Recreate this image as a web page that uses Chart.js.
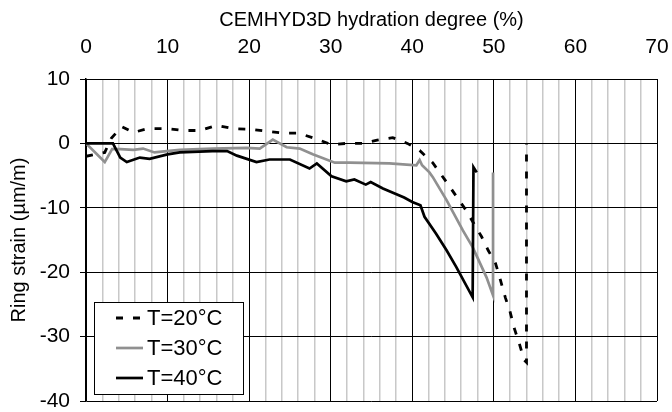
<!DOCTYPE html>
<html>
<head>
<meta charset="utf-8">
<script src="https://cdn.jsdelivr.net/npm/chart.js@4/dist/chart.umd.min.js"></script>
<style>
html,body{margin:0;padding:0;background:#fff;}
#wrap{width:672px;height:412px;}
</style>
</head>
<body>
<div id="wrap"><canvas id="c" width="672" height="412"></canvas></div>
<script>
const seriesLabels = ['T=20°C', 'T=30°C', 'T=40°C'];
const hyd20 = [0, 2.3, 3.1, 4.4, 5.8, 7.6, 9.9, 11.9, 14, 16, 18, 20, 22.1, 24.1, 26, 28, 30.1, 31.9, 33.9, 35.7, 37.6, 39.4, 40.9, 42.5, 44.3, 45.5, 46.6, 48.5, 49.3, 50.2, 50.8, 51.4, 52, 52.5, 53.1, 53.7, 54, 54];
const str20 = [-2, -1.4, 0.8, 2.6, 1.7, 2.3, 2.3, 2.0, 2.0, 2.8, 2.3, 2.2, 1.9, 1.6, 1.6, 0.8, -0.2, 0, 0, 0.5, 0.9, 0, -1.1, -3, -6.2, -8.4, -10.4, -14.5, -16.6, -18.6, -21.2, -23.9, -26.2, -28.7, -31, -33.6, -34, 0];
const hyd30 = [0, 2.3, 3.2, 4.2, 5.8, 7, 8.4, 9.9, 11.5, 15.5, 19.7, 21.3, 22.9, 24.6, 26.2, 27.8, 30.5, 32.3, 37.2, 40.5, 40.9, 41.2, 42.1, 42.5, 44.2, 46.2, 47.4, 49.1, 49.9, 49.9];
const str30 = [0, -2.9, -0.9, -0.9, -1, -0.8, -1.4, -1.2, -1, -0.8, -0.7, -0.8, 0.6, -0.6, -0.8, -1.7, -3, -3, -3.1, -3.4, -2.6, -3.4, -4.5, -5.2, -8.8, -13.5, -16.1, -20.8, -23.6, -4.5];
const hyd40 = [0, 3.3, 4.2, 5, 6.6, 7.8, 10, 11.5, 15.5, 17.3, 18.5, 20.9, 22.5, 25, 27.4, 28.3, 30.1, 31.9, 32.9, 34.3, 34.9, 36.4, 39, 40, 41, 41.5, 42.9, 44.2, 45.4, 47.4, 47.5, 47.9];
const str40 = [0, 0, -2.2, -2.9, -2.2, -2.4, -1.7, -1.4, -1.2, -1.2, -1.9, -2.9, -2.5, -2.5, -3.9, -3.1, -5.1, -5.9, -5.6, -6.4, -6, -7, -8.4, -9.1, -9.6, -11.4, -14, -16.6, -19.2, -23.9, -3.7, -4.5];
const xTitle = 'CEMHYD3D hydration degree (%)';
const yTitle = 'Ring strain (\u00b5m/m)';

const FONT = 'Liberation Sans, Arial, sans-serif';
const FS = 21;
Chart.defaults.font.family = FONT;
Chart.defaults.color = '#000';

function pts(xs, ys){ return xs.map((x,i)=>({x:x, y:ys[i]})); }

const legendBox = {
  id: 'legendBox',
  afterDraw(chart){
    const ctx = chart.ctx;
    const x0 = 94.5, y0 = 302.5, w = 149, h = 92;
    ctx.save();
    ctx.fillStyle = '#fff';
    ctx.fillRect(x0, y0, w, h);
    ctx.strokeStyle = '#000';
    ctx.lineWidth = 1;
    ctx.strokeRect(x0, y0, w, h);
    const rows = [318, 348, 378];
    chart.data.datasets.forEach((ds, i) => {
      const y = rows[i];
      ctx.beginPath();
      ctx.strokeStyle = ds.borderColor;
      ctx.lineWidth = ds.borderWidth;
      ctx.setLineDash(ds.borderDash || []);
      ctx.moveTo(116, y); ctx.lineTo(143, y);
      ctx.stroke();
      ctx.setLineDash([]);
      ctx.fillStyle = '#000';
      ctx.font = '22px ' + FONT;
      ctx.textBaseline = 'middle';
      ctx.textAlign = 'left';
      ctx.fillText(ds.label, 147, y + 1);
    });
    ctx.restore();
  }
};

new Chart(document.getElementById('c'), {
  type: 'scatter',
  data: {
    datasets: [
      { label: seriesLabels[0], data: pts(hyd20, str20), showLine: true, borderColor: '#000', borderWidth: 2.8, borderDash: [7, 10], pointRadius: 0, fill: false, order: 0 },
      { label: seriesLabels[1], data: pts(hyd30, str30), showLine: true, borderColor: '#909090', borderWidth: 2.7, pointRadius: 0, fill: false, order: 2 },
      { label: seriesLabels[2], data: pts(hyd40, str40), showLine: true, borderColor: '#000', borderWidth: 2.7, pointRadius: 0, fill: false, order: 1 }
    ]
  },
  options: {
    responsive: false,
    animation: false,
    layout: { padding: { left: 0, right: 15, top: 0, bottom: 11 } },
    plugins: { legend: { display: false }, tooltip: { enabled: false } },
    scales: {
      x: {
        type: 'linear', position: 'top', min: 0, max: 70,
        afterFit(s){ s.height = 79; s.paddingLeft = 0; s.paddingRight = 0; },
        title: { display: true, text: xTitle, font: { size: 20 }, padding: { top: 8, bottom: 0 } },
        ticks: {
          stepSize: 2, autoSkip: false, maxRotation: 0, padding: 19,
          font: { size: FS },
          callback: v => (Math.round(v) % 10 === 0 ? String(v) : '')
        },
        grid: {
          drawTicks: false,
          color: c => (Math.round(c.tick.value) % 10 === 0 ? '#000' : '#c8c8c8'),
          lineWidth: c => (Math.round(c.tick.value) % 10 === 0 ? 1 : 1.5)
        },
        border: { display: true, color: '#000', width: 1 }
      },
      y: {
        type: 'linear', min: -40, max: 10,
        afterFit(s){ s.width = 86; s.paddingTop = 0; s.paddingBottom = 0; },
        title: { display: true, text: yTitle, font: { size: 20 }, padding: { top: 7, bottom: 0 } },
        ticks: { stepSize: 10, padding: 10, font: { size: FS } },
        grid: { color: '#000', lineWidth: 1, tickLength: 6 },
        border: { display: true, color: '#000', width: 1.5 }
      }
    }
  },
  plugins: [legendBox]
});
</script>
</body>
</html>
